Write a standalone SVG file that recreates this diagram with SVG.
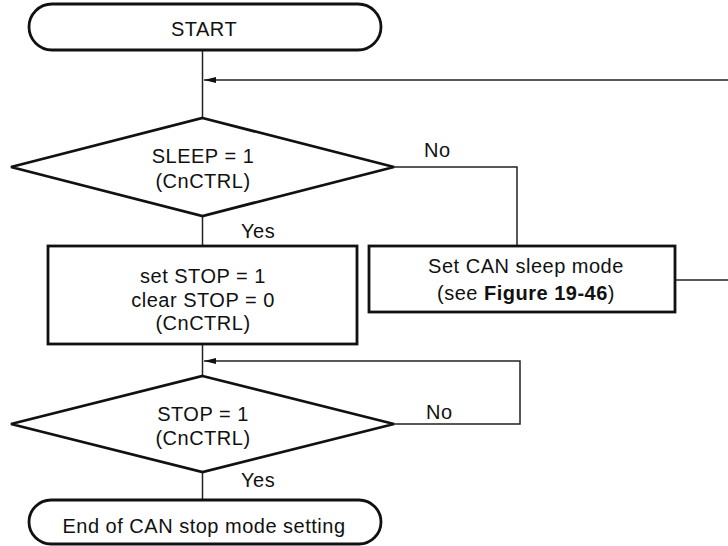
<svg xmlns="http://www.w3.org/2000/svg" width="728" height="546" viewBox="0 0 728 546">
<defs>
<style>
.node{fill:#fff;stroke:#111;stroke-width:2.8}
.conn{fill:none;stroke:#222;stroke-width:1.5}
text{font-family:"Liberation Sans",Arial,sans-serif;font-size:20px;fill:#111;letter-spacing:0.5px}
.c{text-anchor:middle}
</style>
<marker id="ah" viewBox="0 0 12 6" refX="12" refY="3" markerWidth="12" markerHeight="6" markerUnits="userSpaceOnUse" orient="auto">
<path d="M0,0 L12,3 L0,6 Z" fill="#111"/>
</marker>
</defs>
<g id="connectors">
<line class="conn" x1="202.5" y1="50" x2="202.5" y2="118"/>
<line class="conn" x1="728" y1="80" x2="204" y2="80" marker-end="url(#ah)"/>
<line class="conn" x1="202.5" y1="216" x2="202.5" y2="246"/>
<polyline class="conn" points="394,167 517,167 517,246"/>
<line class="conn" x1="675" y1="280" x2="728" y2="280"/>
<line class="conn" x1="202.5" y1="344" x2="202.5" y2="376"/>
<polyline class="conn" points="394,424 520,424 520,361 204,361" marker-end="url(#ah)"/>
<line class="conn" x1="202.5" y1="472" x2="202.5" y2="500"/>
<text x="424" y="157">No</text>
<text x="241" y="238">Yes</text>
<text x="426" y="419">No</text>
<text x="241" y="487">Yes</text>
</g>
<g id="start">
<rect class="node" x="29" y="4" width="352" height="46" rx="23" ry="23"/>
<text class="c" x="204" y="36">START</text>
</g>
<g id="sleep-check">
<polygon class="node" points="202.5,118 394,167 202.5,216 11,167"/>
<text class="c" x="203" y="163">SLEEP = 1</text>
<text class="c" x="203" y="188">(CnCTRL)</text>
</g>
<g id="set-stop">
<rect class="node" x="48" y="246" width="309" height="98"/>
<text class="c" x="203" y="283">set STOP = 1</text>
<text class="c" x="203" y="307">clear STOP = 0</text>
<text class="c" x="203" y="330">(CnCTRL)</text>
</g>
<g id="sleep-mode">
<rect class="node" x="369" y="246" width="306" height="66"/>
<text class="c" x="526" y="273">Set CAN sleep mode</text>
<text class="c" x="526" y="300">(see <tspan font-weight="bold">Figure 19-46</tspan>)</text>
</g>
<g id="stop-check">
<polygon class="node" points="202.5,376 394,424 202.5,472 11,424"/>
<text class="c" x="203" y="421">STOP = 1</text>
<text class="c" x="203" y="445">(CnCTRL)</text>
</g>
<g id="end">
<rect class="node" x="29" y="500" width="352" height="44" rx="22" ry="22"/>
<text class="c" x="204" y="533">End of CAN stop mode setting</text>
</g>
</svg>
